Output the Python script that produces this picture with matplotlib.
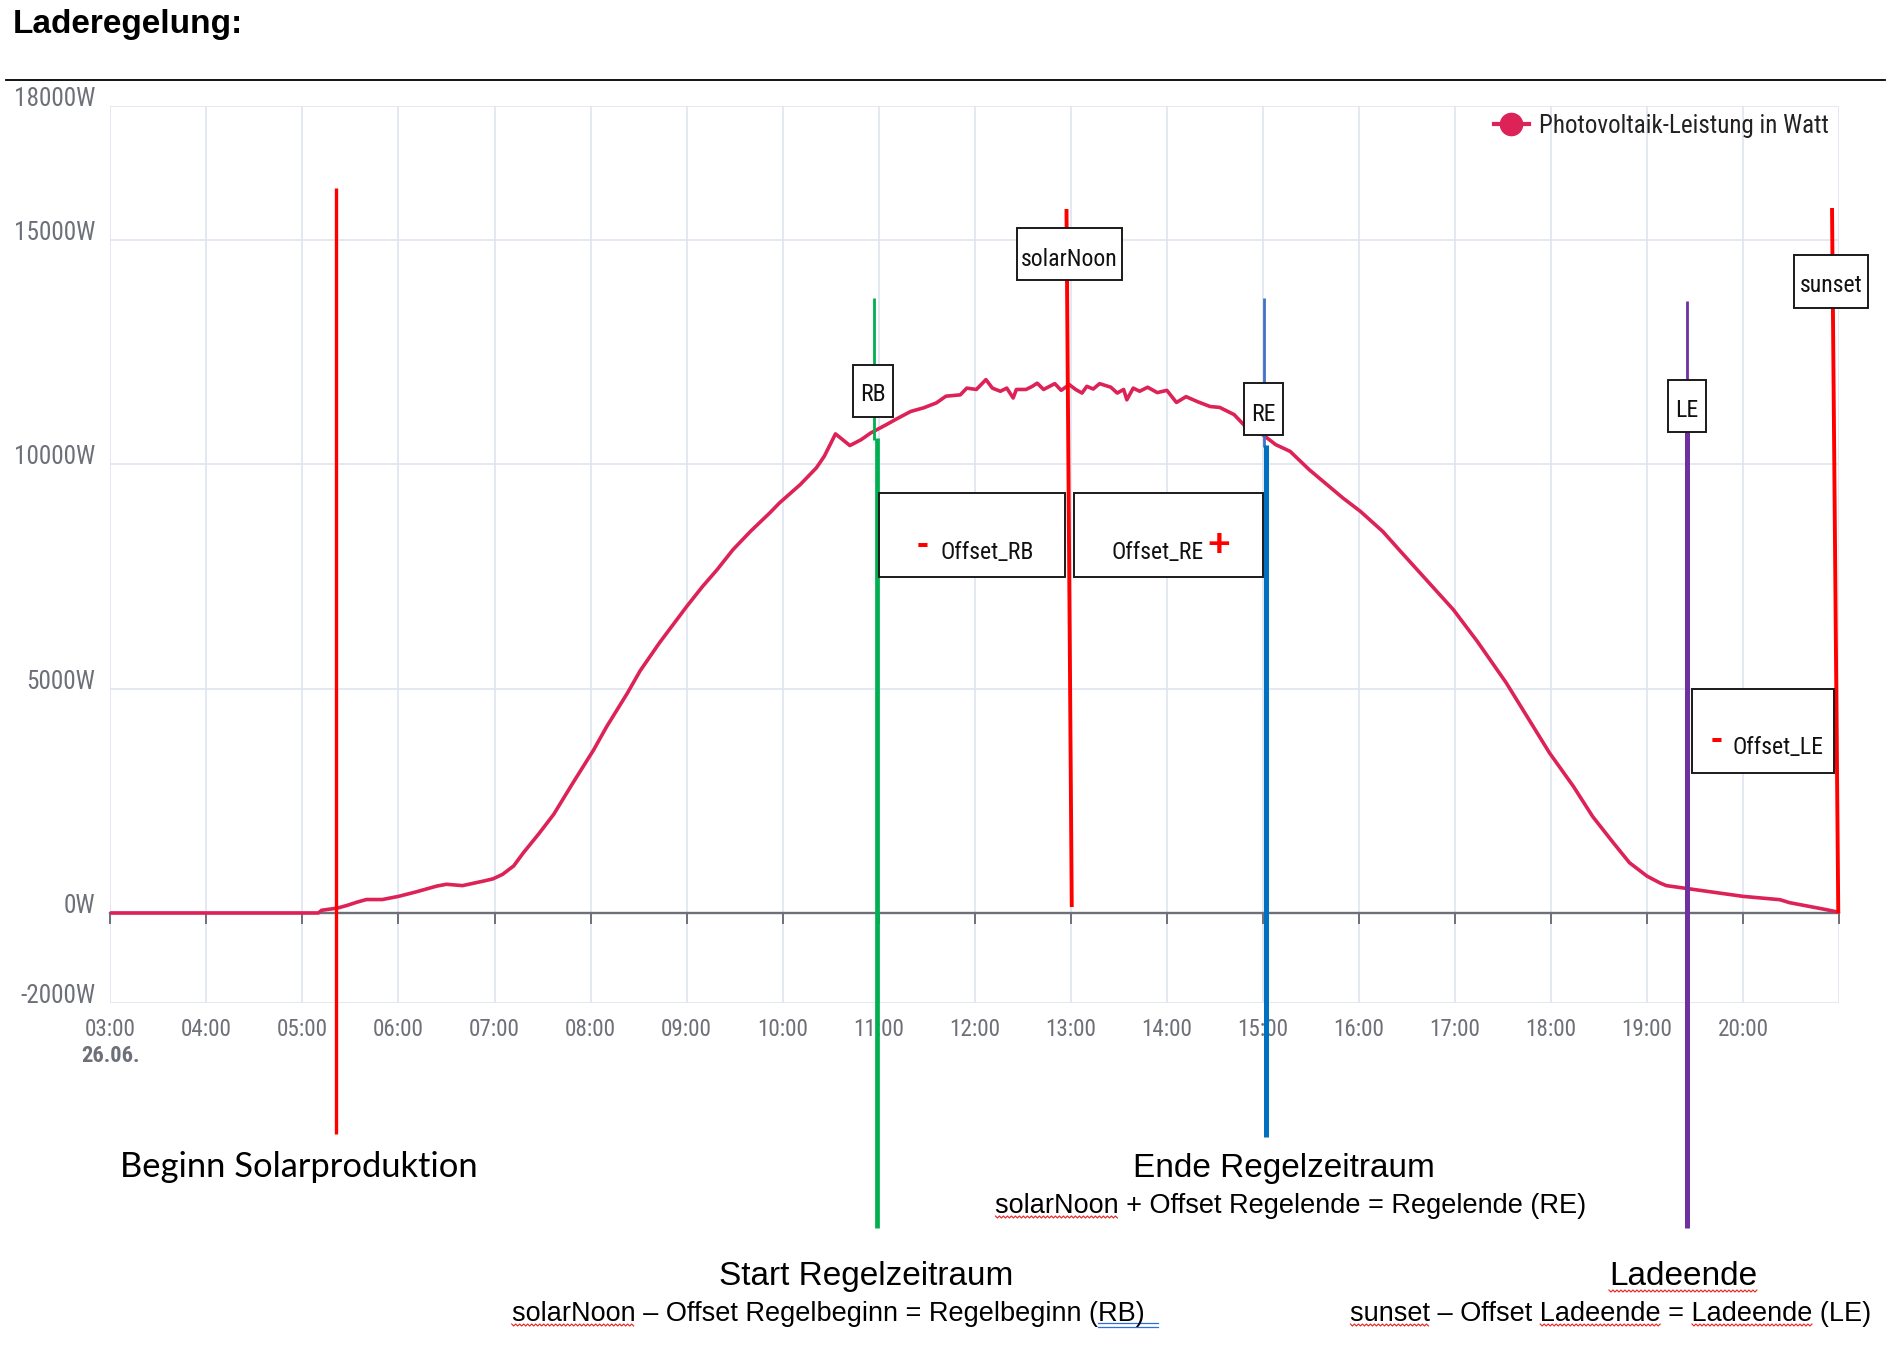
import numpy as np
import matplotlib
matplotlib.use("Agg")
import matplotlib.pyplot as plt
from matplotlib.lines import Line2D
from matplotlib.patches import Rectangle
from matplotlib import transforms
from matplotlib import font_manager as fm
from matplotlib.font_manager import FontProperties

# PV power curve (time of day, watts)
pv_times = ["03:00", "05:10", "05:12", "05:18", "05:22", "05:28", "05:34", "05:40", "05:50", "06:00",
            "06:11", "06:24", "06:30", "06:40", "06:53", "06:59", "07:05", "07:12", "07:18", "07:28",
            "07:37", "07:49", "08:02", "08:10", "08:23", "08:31", "08:43", "09:00", "09:10", "09:19",
            "09:29", "09:40", "09:52", "09:58", "10:11", "10:21", "10:26", "10:33", "10:42", "10:49",
            "10:55", "11:05", "11:11", "11:20", "11:28", "11:36", "11:42", "11:51", "11:55", "12:01",
            "12:04", "12:07", "12:11", "12:16", "12:20", "12:24", "12:26", "12:32", "12:36", "12:39",
            "12:43", "12:50", "12:54", "12:59", "13:03", "13:07", "13:10", "13:14", "13:18", "13:25",
            "13:29", "13:33", "13:35", "13:39", "13:43", "13:48", "13:54", "14:00", "14:06", "14:12",
            "14:19", "14:27", "14:33", "14:42", "14:50", "15:00", "15:08", "15:17", "15:29", "15:40",
            "15:50", "16:01", "16:15", "16:26", "16:42", "16:59", "17:14", "17:32", "17:45", "17:59",
            "18:14", "18:26", "18:39", "18:49", "19:00", "19:08", "19:12", "19:27", "20:00", "20:23",
            "20:29", "20:52", "20:57", "20:59"]
pv_watts = [0, 0, 60, 90, 110, 170, 240, 300, 300, 370,
            470, 600, 640, 610, 710, 760, 860, 1050, 1340, 1780,
            2200, 2900, 3640, 4150, 4900, 5400, 6020, 6830, 7280, 7650,
            8100, 8510, 8920, 9140, 9550, 9920, 10180, 10680, 10420, 10550,
            10700, 10890, 11010, 11180, 11260, 11370, 11520, 11550, 11700, 11670,
            11780, 11890, 11700, 11630, 11700, 11480, 11670, 11670, 11740, 11810,
            11670, 11800, 11650, 11780, 11670, 11590, 11740, 11680, 11800, 11720,
            11590, 11670, 11440, 11700, 11630, 11720, 11600, 11650, 11380, 11510,
            11400, 11290, 11270, 11110, 10810, 10660, 10440, 10290, 9880, 9550,
            9250, 8950, 8500, 8060, 7430, 6760, 6050, 5130, 4380, 3570,
            2820, 2150, 1560, 1120, 820, 670, 610, 535, 370, 296,
            230, 74, 36, 20]

hour_ticks = list(range(3, 22))
hour_labels = ["%02d:00" % h for h in range(3, 21)] + [""]
y_ticks = [-2000, 0, 5000, 10000, 15000, 18000]
y_labels = ["%dW" % v for v in y_ticks]

# marker times
t_start = "05:21"
t_rb = "10:58"
t_noon = "13:00"
t_re = "15:01"
t_le = "19:25"
t_sunset = "20:59"


def to_hours(s):
    h, m = s.split(":")
    return int(h) + int(m) / 60.0


W_PX, H_PX = 1901, 1345


def fx(px):
    return px / W_PX


def fy(py):
    return 1 - py / H_PX


# the screenshot uses a squeezed font -> look for a narrow/condensed face
COND = ("condensed", "semi-condensed", "extra-condensed", "ultra-condensed")
prefs = [("liberation sans narrow", 1.0), ("roboto", 0.9), ("noto sans", 0.92),
         ("open sans", 0.92), ("dejavu sans", 0.84)]


def find_face(bold):
    for base, factor in prefs:
        for f in fm.fontManager.ttflist:
            nm = f.name.lower()
            cond = f.stretch in COND or "narrow" in nm or "condensed" in nm
            if not nm.startswith(base) or not cond or f.style != "normal":
                continue
            w = f.weight if isinstance(f.weight, int) else fm.weight_dict.get(f.weight, 400)
            if (bold and 650 <= w <= 750) or (not bold and 380 <= w <= 420):
                return f.fname, factor
    return None, 0.82


REG_PATH, REG_F = find_face(False)
BOLD_PATH, BOLD_F = find_face(True)


def nprop(size, bold=False):
    path, fac = (BOLD_PATH, BOLD_F) if bold else (REG_PATH, REG_F)
    if path:
        return FontProperties(fname=path, size=size * fac)
    return FontProperties(family="Liberation Sans", weight="bold" if bold else "normal",
                          size=size * 0.82)


ARIAL = ["Liberation Sans", "DejaVu Sans"]
GRAY = "#6e7079"
PV_COLOR = "#dd2257"

fig = plt.figure(figsize=(19.01, 13.45), dpi=100)
fig.patch.set_facecolor("white")

# title and rule
fig.text(fx(13), fy(33), "Laderegelung:", fontsize=24, fontweight="bold", family=ARIAL,
         va="baseline", ha="left")
fig.add_artist(Line2D([fx(6), fx(1885)], [fy(80), fy(80)], color="black", lw=1.3,
                      transform=fig.transFigure))

ax = fig.add_axes([fx(110.3), fy(1002.7), fx(1839.2) - fx(110.3), fy(105.5) - fy(1002.7)])
ax.set_xlim(3, 21)
ax.set_ylim(-2000, 18000)
for s in ax.spines.values():
    s.set_visible(False)

ax.set_xticks(hour_ticks)
ax.set_xticklabels(hour_labels, fontproperties=nprop(18.5), color=GRAY)
ax.set_yticks(y_ticks)
ax.set_yticklabels(y_labels, fontproperties=nprop(20.2), color=GRAY)
ax.tick_params(axis="x", length=0, pad=11)
ax.tick_params(axis="y", length=0, pad=11)
ax.grid(True, color="#e0e6f1", lw=1.3, zorder=0)
ax.set_axisbelow(True)

shift = transforms.ScaledTranslation(0, 9.5 / 100.0, fig.dpi_scale_trans)
for lab in ax.get_yticklabels():
    lab.set_transform(lab.get_transform() + shift)

# date under first tick
date_tr = transforms.blended_transform_factory(ax.transData, fig.transFigure)
ax.text(3, fy(1056), "26.06.", transform=date_tr, ha="center", va="center",
        fontproperties=nprop(18, bold=True), color=GRAY)

# zero line with hour ticks
secax = ax.secondary_xaxis(2000 / 20000)
secax.set_zorder(2)
secax.set_xticks(hour_ticks)
secax.tick_params(axis="x", length=8, width=1.4, color=GRAY, labelbottom=False, direction="out")
secax.spines["bottom"].set_color(GRAY)
secax.spines["bottom"].set_linewidth(1.7)

hours = [to_hours(t) for t in pv_times]
ax.plot(hours, pv_watts, color=PV_COLOR, lw=2.6, zorder=3, solid_joinstyle="round")

handle = Line2D([], [], color=PV_COLOR, lw=3, marker="o", markersize=16)
leg = ax.legend([handle], ["Photovoltaik-Leistung in Watt"], loc="center right",
                bbox_to_anchor=(1.001, 0.977), frameon=False, borderpad=0,
                handlelength=1.4, handletextpad=0.4, prop=nprop(20))
for t in leg.get_texts():
    t.set_color("#222222")

# vertical marker lines (x in hours, y in figure pixels)
trans = transforms.blended_transform_factory(ax.transData, fig.transFigure)
segments = [
    (to_hours(t_start), to_hours(t_start), 188, 1134, "#ff0000", 2.4),
    (to_hours(t_rb) - 0.012, to_hours(t_rb) - 0.012, 298, 440, "#00b050", 2.0),
    (to_hours(t_rb) + 0.012, to_hours(t_rb) + 0.012, 438, 1228, "#00b050", 3.4),
    (to_hours(t_noon) - 0.045, to_hours(t_noon) + 0.01, 209, 907, "#ff0000", 2.8),
    (to_hours(t_re) - 0.006, to_hours(t_re) - 0.006, 298, 447, "#4472c4", 2.0),
    (to_hours(t_re) + 0.012, to_hours(t_re) + 0.012, 445, 1137, "#0070c0", 3.6),
    (to_hours(t_le), to_hours(t_le), 301, 434, "#7030a0", 2.0),
    (to_hours(t_le), to_hours(t_le), 432, 1228, "#7030a0", 3.6),
    (to_hours(t_sunset) - 0.058, to_hours(t_sunset) + 0.007, 208, 913, "#ff0000", 2.8),
]
for x0, x1, y0, y1, c, lw in segments:
    ax.plot([x0, x1], [fy(y0), fy(y1)], color=c, lw=lw, transform=trans, clip_on=False,
            zorder=4, solid_capstyle="butt")

# boxes (figure pixels)
boxes = [
    (853.3, 365, 892.7, 416.7),
    (1017.3, 228.3, 1121.7, 280),
    (1244, 383.3, 1282.7, 435),
    (1668.3, 379.5, 1705.9, 431.6),
    (1794.4, 254.6, 1868.3, 308),
    (879, 493.3, 1065, 576.7),
    (1074, 493.3, 1262.7, 576.7),
    (1691.7, 689.3, 1834, 773.3),
]
for x0, y0, x1, y1 in boxes:
    fig.add_artist(Rectangle((fx(x0), fy(y1)), fx(x1) - fx(x0), fy(y0) - fy(y1),
                             transform=fig.transFigure, facecolor="white", edgecolor="#1a1a1a",
                             lw=1.4, zorder=5))

box_txt = dict(fontproperties=nprop(19), color="#111111", va="baseline", zorder=6)
fig.text(fx(873), fy(401), "RB", ha="center", **box_txt)
fig.text(fx(1069.5), fy(266), "solarNoon", ha="center", **box_txt)
fig.text(fx(1263.3), fy(421), "RE", ha="center", **box_txt)
fig.text(fx(1687.1), fy(417), "LE", ha="center", **box_txt)
fig.text(fx(1831), fy(292), "sunset", ha="center", **box_txt)
fig.text(fx(940), fy(559), "Offset_RB", ha="left", **box_txt)
fig.text(fx(1111), fy(559), "Offset_RE", ha="left", **box_txt)
fig.text(fx(1732), fy(754), "Offset_LE", ha="left", **box_txt)

sym = dict(family=ARIAL, fontweight="bold", color="#ff0000", va="baseline", ha="center", zorder=6)
fig.text(fx(923), fy(554), "-", fontsize=26, **sym)
fig.text(fx(1219), fy(556), "+", fontsize=28, **sym)
fig.text(fx(1716.5), fy(749), "-", fontsize=26, **sym)

# explanations below the chart
head = dict(family=ARIAL, fontsize=24, color="black", va="baseline", ha="center")
form = dict(family=ARIAL, fontsize=19.5, color="black", va="baseline", ha="center")
fig.text(fx(120), fy(1177), "Beginn Solarproduktion", family=["Lato", "DejaVu Sans"],
         fontsize=24.8, color="black", va="baseline", ha="left")
fig.text(fx(1283.5), fy(1177), "Ende Regelzeitraum", **head)
f_re = fig.text(fx(1291), fy(1213), "solarNoon + Offset Regelende = Regelende (RE)", **form)
fig.text(fx(866), fy(1285), "Start Regelzeitraum", **head)
f_rb = fig.text(fx(828), fy(1321), "solarNoon \u2013 Offset Regelbeginn = Regelbeginn (RB)", **form)
h_le = fig.text(fx(1683), fy(1285), "Ladeende", **head)
f_le = fig.text(fx(1611), fy(1321), "sunset \u2013 Offset Ladeende = Ladeende (LE)", **form)

# spell-check squiggles / underline like in the word document
fig.canvas.draw()
renderer = fig.canvas.get_renderer()


def word_span(txt, word, nth=0):
    s = txt.get_text()
    idx = -1
    for _ in range(nth + 1):
        idx = s.index(word, idx + 1)
    prop = txt.get_fontproperties()
    bb = txt.get_window_extent(renderer)
    w_end = renderer.get_text_width_height_descent(s[:idx + len(word)], prop, ismath=False)[0]
    w_word = renderer.get_text_width_height_descent(word, prop, ismath=False)[0]
    return bb.x0 + w_end - w_word, bb.x0 + w_end


def squiggle(x0, x1, ypx):
    xs = np.arange(x0, x1, 2.0)
    ys = np.where(np.arange(len(xs)) % 2 == 0, 1.0, -1.0) + (H_PX - ypx)
    fig.add_artist(Line2D(xs / W_PX, ys / H_PX, color="#e8201e", lw=0.8,
                          transform=fig.transFigure))


for txt, word, nth, ypx in [(f_re, "solarNoon", 0, 1217), (f_rb, "solarNoon", 0, 1325),
                            (h_le, "Ladeende", 0, 1291), (f_le, "sunset", 0, 1325),
                            (f_le, "Ladeende", 0, 1325), (f_le, "Ladeende", 1, 1325)]:
    a, b = word_span(txt, word, nth)
    squiggle(a, b, ypx)

a, b = word_span(f_rb, "RB)")
for ypx in (1323, 1326.5):
    fig.add_artist(Line2D([fx(a), fx(b + 14)], [fy(ypx), fy(ypx)], color="#2e6fd8", lw=0.9,
                          transform=fig.transFigure))

fig.savefig("out.png", dpi=100, facecolor="white")
